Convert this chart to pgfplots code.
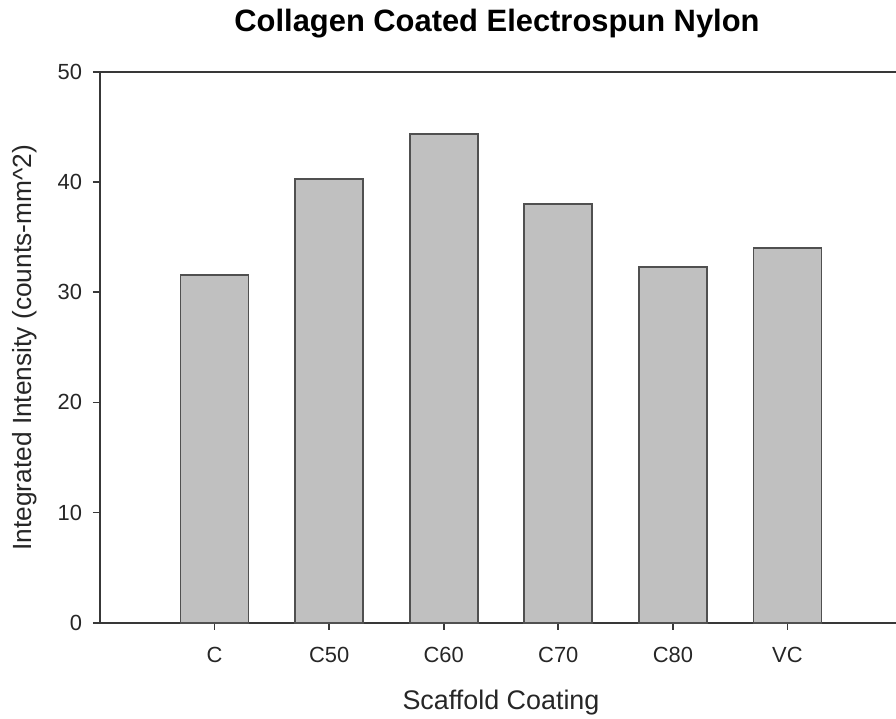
\documentclass[border=0pt]{standalone}
\usepackage{fontspec}
\setmainfont{Liberation Sans}
\usepackage{pgfplots}
\pgfplotsset{compat=1.18}
\definecolor{barfill}{HTML}{C0C0C0}
\definecolor{baredge}{HTML}{505050}
\definecolor{axcol}{HTML}{383838}
\begin{document}
\begin{tikzpicture}
\begin{axis}[
  scale only axis,
  width=401bp, height=275.35bp,
  xmin=0, xmax=7, ymin=0, ymax=50,
  axis x line*=bottom, axis y line*=left,
  axis line style={-, axcol, line width=0.9bp},
  xtick={1,2,3,4,5,6},
  xticklabels={C,C50,C60,C70,C80,VC},
  ytick={0,10,20,30,40,50},
  tick align=outside,
  major tick length=3.5bp,
  tick style={axcol, line width=0.8bp},
  /pgf/number format/assume math mode=true,
  ticklabel style={font=\fontsize{11}{13}\selectfont, text=black!85},
  yticklabel style={xshift=-2bp},
  xticklabel style={yshift=-5bp},
  title={\textbf{Collagen Coated Electrospun Nylon}},
  title style={font=\fontsize{15.5}{18}\selectfont, at={(axis description cs:0.5,1)}, anchor=base, yshift=14.5bp, xshift=-2bp},
  xlabel={Scaffold Coating},
  xlabel style={font=\fontsize{13.5}{16}\selectfont, at={(axis description cs:0.5,0)}, anchor=base, yshift=-43.15bp, text=black!85},
  ylabel={Integrated Intensity (counts-mm\^{}2)},
  ylabel style={font=\fontsize{13.2}{16}\selectfont, at={(axis description cs:0,0.499)}, anchor=base, yshift=34bp, text=black!85},
  ybar, bar width=34bp,
  clip=false,
]
\addplot[fill=barfill, draw=baredge, line width=0.8bp] coordinates {
 (1,31.57) (2,40.27) (3,44.35) (4,38.03) (5,32.3) (6,34.03)
};
\draw[axcol, line width=0.9bp] (rel axis cs:0,1) -- (rel axis cs:1,1);
\coordinate (O) at (rel axis cs:0,0);
\end{axis}
\pgfresetboundingbox
\path[use as bounding box] ([shift={(-50bp,-48.15bp)}]O) rectangle ([shift={(398bp,311.35bp)}]O);
\end{tikzpicture}
\end{document}
